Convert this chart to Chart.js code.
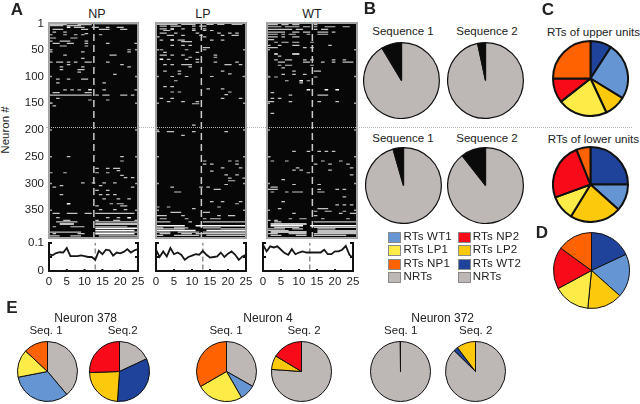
<!DOCTYPE html>
<html>
<head>
<meta charset="utf-8">
<title>Neuron response figure</title>
<script src="https://cdn.jsdelivr.net/npm/chart.js@4"></script>
<style>
  html, body { margin: 0; padding: 0; background: #fff; overflow: hidden; }
  #page { position: relative; width: 640px; height: 404px; font-family: "Liberation Sans", Arial, sans-serif; color: #222; }
  #page canvas { position: absolute; }
  .label { position: absolute; white-space: nowrap; transform: translate(-50%, -50%); line-height: 1; }
  .swatch { position: absolute; width: 11px; height: 9px; border: 1px solid #8a8a8a; }
  .dotted { position: absolute; left: 46px; top: 127px; width: 586px; border-top: 1px dotted #b5b5b5; z-index: 5; }
</style>
</head>
<body>
<div id="page"></div>
<script>
// Raster events: [neuron, first bin, end bin]
const npSpans = [
  [3,0,5],[3,8,12],[5,0,4],[5,5,9],[8,7,10],[8,12,14],[8,16,17],[8,19,21],[12,1,4],[12,9,11],[12,14,17],[12,20,22],
  [17,1,2],[17,4,5],[20,10,11],[22,0,1],[22,4,5],[22,7,8],[22,9,10],[22,14,15],[28,0,2],[28,6,8],
  [34,0,1],[34,3,6],[34,10,11],[38,1,3],[38,5,7],[38,10,11],[38,16,17],[38,24,25],[43,3,5],[43,10,11],
  [50,0,1],[50,22,23],[54,0,1],[54,9,10],[54,22,23],[60,4,5],[60,17,19],[66,9,10],
  [73,0,1],[73,2,4],[73,5,6],[73,7,8],[73,10,12],[73,16,17],[78,5,6],[78,20,21],[82,3,4],[82,9,10],[82,22,23],
  [87,3,4],[87,8,10],[92,8,9],[96,18,19],[105,2,3],[105,5,6],[105,9,11],[112,2,3],[112,15,16],
  [125,4,5],[125,6,7],[125,8,9],[125,15,16],[125,24,25],[130,1,3],[130,10,12],
  [135,0,12],[135,13,14],[135,15,17],[135,20,22],[135,23,24],[141,2,3],[144,11,12],[144,16,17],[150,0,1],[155,1,2],
  [250,5,6],[250,20,21],[258,20,21],[272,13,14],[272,16,17],[272,18,20],[276,19,20],
  [280,0,1],[280,4,5],[280,13,14],[280,16,17],[285,20,21],[289,21,22],[289,23,24],
  [299,9,10],[299,12,13],[299,15,16],[299,18,19],[304,3,4],[304,14,15],[307,1,2],[307,23,24],[313,13,14],[313,16,17],
  [321,3,4],[321,14,15],[321,16,17],[321,18,19],[329,15,16],[329,19,20],[329,22,23],[338,17,18],[338,19,21],
  [342,13,14],[342,20,22],[349,14,15],[349,18,19],[349,21,22],[356,1,3],[356,5,8],[356,10,12],[356,13,24],
  [364,2,3],[364,16,17],[364,19,20],[369,4,6],[369,13,14],[369,18,20],[369,24,25],
  [372,2,8],[372,13,25],[381,1,2],[381,6,10],[381,13,22],[391,0,9],[391,13,25],[394,1,2],[394,8,10],[398,0,3],[398,6,9],[398,14,25]
];
const npBright = [
  [1,0,11],[1,13,25],[8,5,6],[125,11,12],[338,5,6],[364,22,23],[376,3,7],[376,13,25],[384,13,25],[388,13,24],[394,13,24]
];
const lpSpans = [
  [6,1,3],[6,4,7],[6,10,11],[6,12,14],[11,1,3],[11,7,8],[11,10,11],[11,13,14],[14,2,4],[14,10,11],[14,13,14],[14,15,16],
  [19,1,3],[19,5,6],[19,11,12],[19,17,18],[19,20,21],[19,22,23],[23,3,5],[23,7,8],[23,12,13],[23,18,19],[23,21,23],
  [26,0,1],[26,13,14],[32,1,2],[32,6,8],[32,15,16],[32,18,19],[35,7,10],[42,4,5],[42,7,8],[42,9,10],[46,13,15],
  [50,1,2],[50,8,9],[50,13,14],[55,2,3],[55,11,12],[60,1,3],[60,4,5],[60,7,8],[60,16,17],[64,9,10],[64,16,17],
  [68,3,4],[68,8,9],[68,11,12],[73,11,12],[73,16,17],[73,22,23],[78,2,3],[78,4,5],[78,7,8],[78,8,10],[78,19,21],[78,23,24],
  [82,9,10],[90,2,3],[90,6,7],[90,18,19],[95,6,7],[95,20,21],[100,4,5],[100,8,9],[100,15,16],[100,24,25],[108,5,6],
  [119,2,3],[119,4,5],[123,14,15],[123,18,19],[129,4,5],[129,6,7],[129,20,21],[134,19,20],[141,1,2],[141,4,5],[141,18,19],[141,23,24],
  [147,3,4],[147,7,8],[147,11,12],[151,10,12],[191,10,11],[203,0,1],[203,3,5],[203,10,11],[203,19,20],[210,7,8],
  [258,13,14],[258,20,21],[258,22,23],[264,13,14],[264,15,16],[264,22,23],[271,18,19],[271,23,24],[277,15,16],
  [284,19,20],[284,22,23],[290,20,21],[290,24,25],[295,20,22],[302,19,20],[307,4,5],[307,12,13],[307,14,15],[311,16,18],
  [316,5,7],[334,15,16],[334,18,19],[334,23,24],[338,22,23],[344,0,1],[344,3,4],[344,17,18],[347,10,11],
  [354,4,7],[354,13,15],[360,0,3],[360,7,8],[360,17,18],[360,20,22],[366,1,3],[366,8,9],[366,13,14],[366,15,18],[372,0,4],[372,9,10],[372,13,25],
  [383,0,2],[383,5,9],[383,13,18],[385,0,8],[385,18,25],[391,0,4],[391,6,12],[391,13,25],[394,1,4],[394,7,10],[394,11,25],[397,0,2],[397,5,12],[397,14,25]
];
const lpBright = [
  [2,0,6],[2,7,11],[2,14,16],[2,17,19],[2,21,24],[11,4,5],[32,4,5],[68,1,2],[379,0,8],[379,11,25],[388,0,11],[388,14,25]
];
const wtSpans = [
  [3,0,3],[3,4,6],[3,7,9],[3,13,14],[7,0,4],[7,5,9],[7,10,12],[7,13,14],[7,16,19],[7,21,23],
  [12,0,3],[12,3,7],[12,8,10],[12,13,14],[12,15,17],[17,0,5],[17,7,9],[17,10,12],[17,14,17],[17,18,19],
  [21,0,3],[21,4,5],[21,6,8],[21,11,12],[21,14,17],[26,0,3],[26,4,5],[26,7,9],[31,0,2],
  [36,2,3],[36,4,6],[36,7,9],[36,12,13],[42,0,1],[42,3,4],[42,7,9],[42,17,18],[46,0,3],[46,10,11],[46,12,13],
  [62,3,4],[69,2,3],[69,5,7],[69,10,11],[69,12,13],[69,18,19],[69,21,22],[73,3,5],[73,10,12],[73,15,16],[73,18,19],[73,21,24],
  [79,3,4],[79,5,7],[79,12,13],[84,4,5],[90,7,8],[90,13,15],[96,4,5],[96,7,8],[96,10,11],[101,0,1],[101,2,3],[101,13,14],
  [108,5,6],[108,11,12],[112,9,10],[130,1,2],[135,6,7],[135,14,15],[135,15,17],[141,1,2],[141,3,4],
  [147,0,2],[147,6,7],[147,14,15],[147,19,20],[169,1,2],
  [240,7,8],[240,11,12],[240,14,15],[240,16,17],[240,18,19],[250,0,1],[258,1,2],[258,5,6],[258,15,16],[258,20,21],
  [264,13,14],[264,17,18],[264,22,23],[271,8,9],[271,23,24],[275,7,8],[275,9,10],[275,17,18],[280,11,12],[284,23,24],
  [293,4,5],[302,7,8],[302,14,15],[307,1,3],[311,0,3],[311,14,15],[311,19,20],[311,21,22],[316,1,2],[316,5,6],[316,7,10],[316,14,16],
  [325,21,22],[334,4,5],[340,19,20],[340,21,22],[340,23,24],[347,3,4],[347,14,17],[352,13,14],[352,16,18],[352,21,22],
  [356,7,8],[356,20,21],[356,23,25],[360,13,14],[366,6,7],[366,9,11],[366,15,16],[366,22,23],[369,0,1],[369,2,3],
  [372,2,4],[372,13,25],[382,2,9],[382,13,25],[385,0,5],[385,7,10],[385,14,19],[388,0,6],[388,14,25],[394,0,3],[394,6,11],[394,13,25],[397,1,4],[397,8,11],[397,13,22]
];
const wtBright = [
  [58,2,3],[58,7,9],[125,11,12],[125,16,17],[125,19,20],[108,9,10],[376,1,11],[379,1,10],[379,12,25],[391,1,11],[391,14,25]
];

// Mean response traces, one value per bin
const traceBins = [0,1,2,3,4,5,6,7,8,9,10,11,12,13,14,15,16,17,18,19,20,21,22,23,24,25];
const npTrace = [.06,.056,.064,.067,.066,.082,.053,.053,.053,.056,.053,.05,.05,.04,.072,.06,.076,.074,.055,.066,.063,.068,.078,.066,.074,.078];
const lpTrace = [.076,.05,.07,.052,.082,.06,.066,.058,.04,.05,.055,.06,.058,.072,.058,.048,.05,.052,.066,.05,.062,.07,.058,.04,.052,.058];
const wtTrace = [.094,.07,.088,.084,.088,.076,.064,.058,.078,.06,.066,.07,.066,.066,.066,.066,.066,.076,.06,.06,.07,.07,.076,.09,.058,.046];

const neuronTicks = [1, 50, 100, 150, 200, 250, 300, 350];
const traceTicks = [0, 0.05, 0.1];

// Pie slices in degrees, clockwise from the top
const seqUpper1 = [329, 31];
const seqUpper2 = [348, 12];
const seqLower1 = [344, 16];
const seqLower2 = [322, 38];
const rtUpper = [33, 88.5, 33.5, 77, 38, 90];
const rtLower = [90, 42, 79.5, 38.5, 88, 22];
const rtAll = [65, 66.7, 53.9, 56, 64.4, 54];
const n378Seq1 = [140, 119, 54, 47];
const n378Seq2 = [65, 119, 84, 92];
const n4Seq1 = [119.5, 30.5, 90, 120];
const n4Seq2 = [274, 27, 59];
const n372Seq1 = [359.6, 0.4];
const n372Seq2 = [314.5, 8.5, 37];

const legendLeft = ['RTs WT1', 'RTs LP1', 'RTs NP1', 'NRTs'];
const legendRight = ['RTs NP2', 'RTs LP2', 'RTs WT2', 'NRTs'];

const WT1 = '#6596D3', LP1 = '#FDEB48', NP1 = '#FF6200', NRT = '#BDB8B6';
const NP2 = '#F80A18', LP2 = '#FDC90C', WT2 = '#1F429B', RT = '#0A0A0A';

const page = document.getElementById('page');
const FONT = '"Liberation Sans", Arial, sans-serif';

function addText(text, x, y, size, bold) {
  const el = document.createElement('div');
  el.className = 'label';
  el.textContent = text;
  el.style.left = x + 'px';
  el.style.top = y + 'px';
  el.style.fontSize = size + 'px';
  if (bold) el.style.fontWeight = 'bold';
  page.appendChild(el);
  return el;
}

function addCanvas(left, top, width, height) {
  const canvas = document.createElement('canvas');
  canvas.width = width;
  canvas.height = height;
  canvas.style.left = left + 'px';
  canvas.style.top = top + 'px';
  page.appendChild(canvas);
  return canvas;
}

// Spans become one line dataset, NaN breaks the line between events
function toSegments(spans) {
  return spans.flatMap(([neuron, from, to]) => [
    { x: from, y: neuron }, { x: to, y: neuron }, { x: NaN, y: NaN }
  ]);
}

// Black background, gray frame and inward ticks of a raster panel
const rasterFrame = {
  id: 'rasterFrame',
  beforeDatasetsDraw(chart) {
    const { ctx, chartArea: a } = chart;
    ctx.save();
    ctx.fillStyle = '#070707';
    ctx.fillRect(a.left, a.top, a.width, a.height);
    ctx.restore();
  },
  afterDatasetsDraw(chart) {
    const { ctx, chartArea: a, scales } = chart;
    ctx.save();
    ctx.strokeStyle = '#a3a3a3';
    ctx.lineWidth = 2;
    ctx.strokeRect(a.left, a.top, a.width, a.height);
    ctx.lineWidth = 1.5;
    neuronTicks.slice(1).forEach(tick => {
      const y = scales.y.getPixelForValue(tick);
      ctx.beginPath();
      ctx.moveTo(a.left, y);
      ctx.lineTo(a.left + 3, y);
      ctx.moveTo(a.right - 3, y);
      ctx.lineTo(a.right, y);
      ctx.stroke();
    });
    ctx.restore();
  }
};

// Open black box of a trace panel, with stubs on the top corners
const traceBox = {
  id: 'traceBox',
  afterDatasetsDraw(chart) {
    const { ctx, chartArea: a, scales } = chart;
    ctx.save();
    ctx.strokeStyle = '#111';
    ctx.lineWidth = 2;
    ctx.beginPath();
    ctx.moveTo(a.left + 3, a.top);
    ctx.lineTo(a.left, a.top);
    ctx.lineTo(a.left, a.bottom);
    ctx.lineTo(a.right, a.bottom);
    ctx.lineTo(a.right, a.top);
    ctx.lineTo(a.right - 3, a.top);
    const mid = scales.y.getPixelForValue(0.05);
    ctx.moveTo(a.left, mid);
    ctx.lineTo(a.left + 3, mid);
    ctx.moveTo(a.right, mid);
    ctx.lineTo(a.right - 3, mid);
    [5, 10, 15, 20].forEach(tick => {
      const x = scales.x.getPixelForValue(tick);
      ctx.moveTo(x, a.bottom);
      ctx.lineTo(x, a.bottom - 2);
    });
    ctx.stroke();
    ctx.restore();
  }
};

function makeRaster(left, width, spans, bright, withLabels) {
  const marginLeft = withLabels ? 49 : 1;
  const canvas = addCanvas(left, 15, width, 224);
  return new Chart(canvas, {
    type: 'scatter',
    data: {
      datasets: [
        { data: toSegments(spans), showLine: true, pointRadius: 0, borderColor: '#c4c4c4', borderWidth: 1.2 },
        { data: toSegments(bright), showLine: true, pointRadius: 0, borderColor: '#ffffff', borderWidth: 1.5 },
        { data: [{ x: 12.6, y: 0 }, { x: 12.6, y: 402 }], showLine: true, pointRadius: 0, borderColor: '#c9c9c9', borderWidth: 1.5, borderDash: [7, 4] }
      ]
    },
    options: {
      responsive: false,
      animation: false,
      layout: { padding: { left: withLabels ? 0 : 1, right: 1, top: 8, bottom: 1 } },
      plugins: { legend: { display: false }, tooltip: { enabled: false } },
      scales: {
        x: { type: 'linear', min: 0, max: 25, display: false },
        y: {
          type: 'linear', min: 0, max: 402, reverse: true, display: withLabels,
          grid: { display: false, drawTicks: false }, border: { display: false },
          afterBuildTicks: axis => { axis.ticks = neuronTicks.map(value => ({ value })); },
          afterFit: axis => { axis.width = marginLeft; axis.paddingTop = 0; axis.paddingBottom = 0; },
          ticks: { padding: 5, color: '#222', autoSkip: false, font: { size: 11.5, family: FONT } }
        }
      }
    },
    plugins: [rasterFrame]
  });
}

function makeTrace(left, width, marginLeft, marginRight, values, withLabels) {
  const canvas = addCanvas(left, 236, width, 56);
  return new Chart(canvas, {
    type: 'scatter',
    data: {
      datasets: [
        { data: traceBins.map((bin, i) => ({ x: bin, y: values[i] })), showLine: true, pointRadius: 0, borderColor: '#161616', borderWidth: 1.8, tension: 0 },
        { data: [{ x: 13, y: 0.005 }, { x: 13, y: 0.1 }], showLine: true, pointRadius: 0, borderColor: '#8f8f8f', borderWidth: 1.5, borderDash: [5, 3] }
      ]
    },
    options: {
      responsive: false,
      animation: false,
      layout: { padding: { left: 0, right: marginRight, top: 7, bottom: 0 } },
      plugins: { legend: { display: false }, tooltip: { enabled: false } },
      scales: {
        x: {
          type: 'linear', min: 0, max: 25,
          grid: { display: false, drawTicks: false }, border: { display: false },
          afterFit: axis => { axis.height = 21; axis.paddingLeft = 0; axis.paddingRight = 0; },
          ticks: { stepSize: 5, padding: 4, maxRotation: 0, color: '#222', font: { size: 11.5, family: FONT } }
        },
        y: {
          type: 'linear', min: 0, max: 0.1,
          grid: { display: false, drawTicks: false }, border: { display: false },
          afterBuildTicks: axis => { axis.ticks = traceTicks.map(value => ({ value })); },
          afterFit: axis => { axis.width = marginLeft; axis.paddingTop = 0; axis.paddingBottom = 0; },
          ticks: { display: withLabels, padding: 5, color: '#222', font: { size: 11.5, family: FONT }, callback: value => String(value) }
        }
      }
    },
    plugins: [traceBox]
  });
}

function makePie(cx, cy, r, values, colors, lineWidth) {
  const size = Math.round(2 * r + lineWidth);
  const canvas = addCanvas(Math.round(cx - size / 2), Math.round(cy - size / 2), size, size);
  return new Chart(canvas, {
    type: 'pie',
    data: {
      datasets: [{ data: values, backgroundColor: colors, borderColor: '#111', borderWidth: lineWidth, borderAlign: 'center' }]
    },
    options: {
      responsive: false,
      animation: false,
      plugins: { legend: { display: false }, tooltip: { enabled: false } }
    }
  });
}

// A: rasters and traces
addText('NP', 97, 14, 12.5);
addText('LP', 203, 14, 12.5);
addText('WT', 312, 14, 12.5);
addText('Neuron #', 6, 130, 11.5).style.transform = 'translate(-50%, -50%) rotate(-90deg)';
makeRaster(0, 139, npSpans, npBright, true);
makeRaster(154, 93, lpSpans, lpBright, false);
makeRaster(265, 93, wtSpans, wtBright, false);
makeTrace(0, 148, 49, 10, npTrace, true);
makeTrace(146, 110, 10, 10, lpTrace, false);
makeTrace(253, 110, 10, 10, wtTrace, false);

// B: share of responsive neurons
addText('Sequence 1', 403, 32, 11.5);
addText('Sequence 2', 487, 32, 11.5);
addText('Sequence 1', 403, 139, 11.5);
addText('Sequence 2', 487, 139, 11.5);
makePie(401.7, 80, 37.7, seqUpper1, [NRT, RT], 1.2);
makePie(485.3, 80, 37.7, seqUpper2, [NRT, RT], 1.2);
makePie(403.3, 185.7, 38, seqLower1, [NRT, RT], 1.2);
makePie(485.3, 185.7, 38, seqLower2, [NRT, RT], 1.2);

// Legend below B
[legendLeft, legendRight].forEach((labels, col) => {
  const swatches = col === 0 ? [WT1, LP1, NP1, NRT] : [NP2, LP2, WT2, NRT];
  labels.forEach((label, row) => {
    const y = 237.3 + row * 13.1;
    const box = document.createElement('div');
    box.className = 'swatch';
    box.style.left = (col === 0 ? 388 : 457.5) + 'px';
    box.style.top = (y - 5) + 'px';
    box.style.background = swatches[row];
    page.appendChild(box);
    const text = addText(label, col === 0 ? 403.5 : 472.7, y, 11.5);
    text.style.transform = 'translate(0, -50%)';
    text.style.letterSpacing = '0.2px';
  });
});

// C and D: responsive units by condition
addText('RTs of upper units', 593.5, 32, 11.6);
addText('RTs of lower units', 593.5, 139, 11.6);
const rtColors = [WT2, WT1, LP2, LP1, NP2, NP1];
makePie(590.7, 78.3, 37.5, rtUpper, rtColors, 2);
makePie(590.7, 184, 37.5, rtLower, rtColors, 2);
makePie(591, 270.7, 38, rtAll, rtColors, 1);

// E: single neurons
addText('Neuron 378', 85.7, 317.5, 12);
addText('Seq. 1', 46, 331, 11.5);
addText('Seq.2', 122.7, 331, 11.5);
addText('Neuron 4', 268, 317.5, 12);
addText('Seq. 1', 226, 331, 11.5);
addText('Seq. 2', 304, 331, 11.5);
addText('Neuron 372', 442.7, 317.5, 12);
addText('Seq. 1', 400.7, 331, 11.5);
addText('Seq. 2', 475.7, 331, 11.5);
makePie(47.3, 371.7, 30, n378Seq1, [NRT, WT1, LP1, NP1], 1);
makePie(119.7, 371.7, 30, n378Seq2, [NRT, WT2, LP2, NP2], 1);
makePie(226.3, 371.7, 30, n4Seq1, [NRT, WT1, LP1, NP1], 1);
makePie(301.7, 371.7, 30, n4Seq2, [NRT, LP2, NP2], 1);
makePie(400.3, 371.7, 30, n372Seq1, [NRT, NRT], 1);
makePie(475.3, 371.7, 30, n372Seq2, [NRT, WT2, LP2], 1);

// Panel letters
addText('A', 17, 9, 17, true);
addText('B', 370, 8, 17, true);
addText('C', 548, 9, 17, true);
addText('D', 542, 232, 17, true);
addText('E', 12, 307, 17, true);

const divider = document.createElement('div');
divider.className = 'dotted';
page.appendChild(divider);
</script>
</body>
</html>
